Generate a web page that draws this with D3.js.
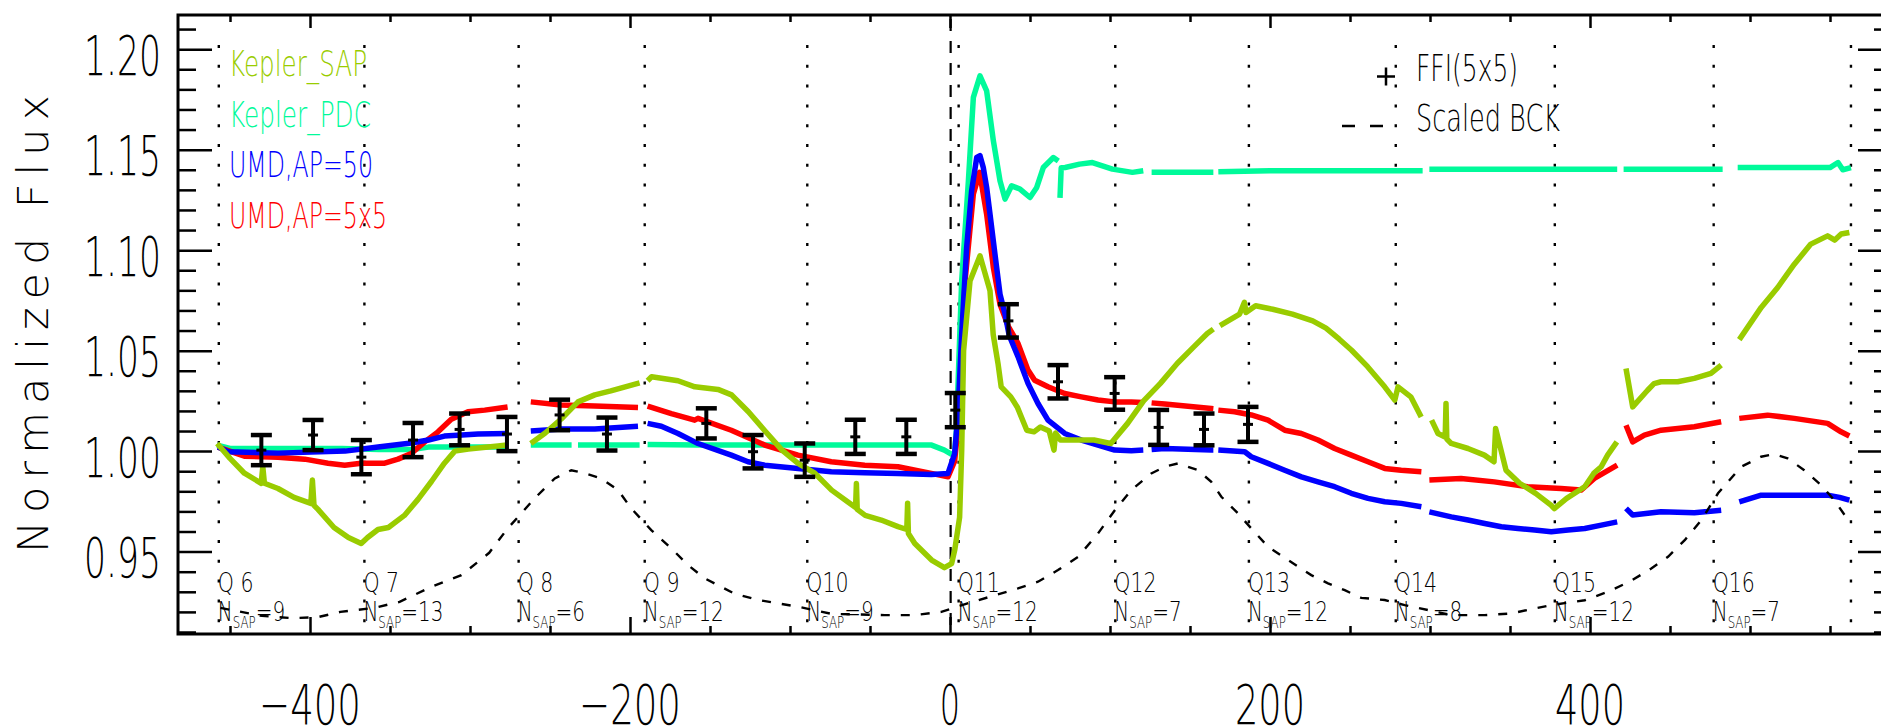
<!DOCTYPE html>
<html><head><meta charset="utf-8">
<script src="https://cdn.jsdelivr.net/npm/d3@7"></script>
<style>
html,body{margin:0;padding:0;background:#fff;}
svg{display:block;background:#fff;}
text{font-family:"DejaVu Sans","Liberation Sans",sans-serif;font-weight:200;fill:#000;}
</style></head><body>
<svg id="c" width="1881" height="728"></svg>
<script>
// ---------------- DATA ----------------
const yTicks = [0.95, 1.00, 1.05, 1.10, 1.15, 1.20];
const yTickLabels = ["0.95", "1.00", "1.05", "1.10", "1.15", "1.20"];
const xTicks = [-400, -200, 0, 200, 400];
const xTickLabels = ["\u2212400", "\u2212200", "0", "200", "400"];

const quarterT = [-457, -366, -269.6, -190.8, -89.2, 5.4, 103.3, 186.8, 278.6, 378, 477.3];
const quarterLabels = ["Q 6", "Q 7", "Q 8", "Q 9", "Q10", "Q11", "Q12", "Q13", "Q14", "Q15", "Q16"];
const quarterNsap = [9, 13, 6, 12, 9, 12, 7, 12, 8, 12, 7];
const quarterEndT = 563.1;
const zeroT = 0.4;

const sap = [[-458,1.0038],[-450,0.9964],[-441,0.989],[-430.5,0.984],[-429.5,0.9922],[-428.5,0.984],[-420,0.9814],[-410,0.977],[-399.5,0.974],[-398.5,0.9856],[-397.5,0.973],[-395,0.971],[-385,0.962],[-376,0.957],[-368,0.954],[-364,0.957],[-357.5,0.961],[-351,0.962],[-341,0.968],[-332.5,0.976],[-324,0.985],[-316,0.994],[-309.5,1.0],[-301,1.001],[-282.5,1.0025],[-277,1.003],null,
[-262,1.0038],[-253,1.009],[-243,1.016],[-232.5,1.0245],[-222,1.028],[-212,1.03],[-194,1.034],null,
[-189,1.035],[-186.5,1.037],[-170,1.035],[-159.5,1.032],[-145,1.0307],[-136.5,1.028],[-126,1.0196],[-116,1.0104],[-105,1.0005],[-95,0.9939],[-84.5,0.989],[-74,0.9806],[-64,0.9748],[-59,0.972],[-58.5,0.9839],[-58,0.971],[-53,0.968],[-43,0.9657],[-32.5,0.9624],[-27,0.961],[-26.5,0.974],[-26,0.959],[-22,0.954],[-11.5,0.9458],[-3.5,0.942],[1,0.944],[3,0.951],[6,0.967],[7.3,1.0],[8.5,1.05],[12.5,1.0847],[18.75,1.0972],[25,1.0798],[27,1.058],[30,1.0436],[32,1.032],[38,1.027],[42,1.022],[48,1.0104],[52.5,1.0096],[56.5,1.012],[62,1.010],[65,1.0005],[66,1.009],[69,1.0055],[90,1.0055],[100.5,1.0038],[111,1.0138],[121,1.025],[131.5,1.0337],[142,1.0436],[152.5,1.052],[160.8,1.0585],[164.6,1.0607],null,
[168.75,1.0624],[181,1.0682],[184,1.074],[185,1.069],[191,1.0723],[201.7,1.0706],[214,1.0682],[226.7,1.0648],[235,1.0612],[243.3,1.0557],[251,1.0502],[261,1.042],[271.7,1.032],[278,1.0254],[280,1.032],[288,1.027],[294.5,1.017],null,
[301,1.0154],[305,1.0088],[309.5,1.007],[310,1.0237],[310.5,1.006],[313.3,1.0038],[323.75,1.0013],[334,0.998],[340,0.9947],[341,1.0113],[347.5,0.9905],[356,0.984],[366,0.979],[375.6,0.9731],[377.7,0.9714],[385.4,0.9765],[396.7,0.9823],[402.3,0.9889],[407,0.9922],[411,0.998],[416.8,1.0046],null,
[422.5,1.0411],[426.7,1.022],[436,1.0303],[440,1.0336],[444.4,1.0345],[454.8,1.0345],[465.2,1.0362],[475.6,1.0387],[482,1.0428],null,
[493.3,1.0555],[507,1.0715],[517.3,1.0814],[527.7,1.093],[538,1.103],[548.5,1.1071],[553,1.105],[557,1.108],[562.1,1.1088]];

const pdc = [[-458,1.003],[-450,1.0013],[-380,1.0013],[-357,1.0008],[-336,1.0008],[-326,1.002],[-277,1.002],null,
[-262,1.003],[-236.5,1.003],null,[-232.5,1.003],[-194,1.003],null,
[-189,1.0033],[-157.5,1.003],[-100,1.003],[-11.5,1.003],[-3.5,1.0005],[0.8,0.9985],[2.9,0.999],[4,1.0104],[7.3,1.0847],[11.5,1.1345],[14.6,1.176],[18.75,1.1867],[22.9,1.1793],[27.1,1.1544],[31.25,1.1345],[34.4,1.1254],[38.5,1.132],[43.75,1.1304],[50,1.1262],[54.2,1.1312],[58.3,1.1411],[64.6,1.1461],[67.7,1.1444],null,
[68.75,1.126],[69.5,1.141],[72,1.1411],[81,1.1428],[89,1.1436],[101.5,1.1403],[114,1.1387],[120.8,1.1395],null,
[126,1.1387],[164.6,1.1387],null,
[167.7,1.139],[200,1.1395],[260,1.1395],[295.4,1.1395],null,
[299.6,1.1403],[417,1.1403],null,
[421,1.1403],[482.9,1.1403],null,
[492.3,1.1411],[550,1.1411],[555,1.1436],[558,1.140],[563.1,1.1411]];

const umd50 = [[-457.5,1.002],[-451,0.9997],[-420,0.999],[-378,1.0],[-357.5,1.002],[-336.7,1.004],[-326,1.0055],[-316,1.0075],[-305,1.008],[-295,1.0085],[-276.5,1.0088],null,
[-262,1.010],[-243,1.011],[-222,1.011],[-195,1.0124],null,
[-189,1.0138],[-180.4,1.0124],[-170,1.0088],[-159.6,1.0046],[-157.5,1.0038],[-136.7,0.998],[-126.25,0.9947],[-115.8,0.993],[-95,0.9914],[-74.2,0.9897],[-53.3,0.9892],[-32.5,0.9889],[-11.7,0.9884],[-1.25,0.9889],[2.9,0.9988],[5,1.0187],[7.3,1.058],[10.4,1.1013],[13.5,1.1295],[16.7,1.1461],[18.75,1.147],[20.8,1.1411],[22.9,1.1312],[25,1.1179],[28.1,1.098],[31.25,1.0781],[34.4,1.0682],[37,1.0575],[42.5,1.047],[48.75,1.0337],[55,1.0237],[61.25,1.0154],[71.7,1.0088],[82.1,1.0055],[92.5,1.003],[102.9,1.0005],[113.3,1.0002],[120.8,1.0005],null,
[126,1.0008],[134.2,1.0013],[163.3,1.0005],[164.6,1.0005],null,
[167.7,1.0005],[184.2,0.9997],[188.3,0.9972],[198.75,0.9939],[209.2,0.9905],[219.6,0.9872],[230,0.9847],[240.4,0.9823],[250.8,0.979],[261.25,0.9765],[271.7,0.9748],[282,0.974],[294.6,0.9723],null,
[299.6,0.9698],[313.3,0.9673],[323.75,0.9657],[334.2,0.964],[344.6,0.9624],[355,0.9615],[365.4,0.9607],[375.8,0.9599],[386.25,0.9607],[396.7,0.9615],[407.1,0.9632],[417,0.9648],null,
[422.5,0.9715],[426.7,0.9682],[444.4,0.9698],[465.2,0.9693],[482,0.9706],null,
[493.3,0.9748],[507,0.9781],[527.7,0.9781],[548.5,0.9781],[556,0.977],[562.1,0.9756]];

const umd5x5 = [[-457.5,1.002],[-441,0.9975],[-420,0.997],[-403.3,0.996],[-388.75,0.994],[-378.3,0.993],[-368,0.994],[-353.3,0.994],[-345,0.996],[-336.7,0.9988],[-328.3,1.0046],[-320,1.0096],[-311.7,1.0158],[-301.25,1.0196],[-290.8,1.0204],[-276.5,1.022],null,
[-262,1.0245],[-243,1.023],[-222,1.0224],[-195,1.0217],null,
[-189,1.0224],[-174.2,1.0187],[-159.6,1.0154],[-157.5,1.0163],[-136.7,1.0104],[-115.8,1.003],[-95,0.998],[-74.2,0.9947],[-53.3,0.993],[-32.5,0.9922],[-11.7,0.9889],[-1.25,0.9872],[2.9,0.995],[6,1.02],[9.4,1.0847],[14.6,1.1279],[18.5,1.1387],[22.9,1.1179],[27.1,1.0914],[31.25,1.0731],[36.5,1.062],[42.5,1.0536],[48.75,1.0403],[52.9,1.0353],[61.25,1.032],[71.7,1.0287],[82.1,1.027],[92.5,1.0254],[102.9,1.0245],[113.3,1.0245],[120.8,1.0242],null,
[126,1.024],[134.2,1.0234],[163.3,1.0212],[164.6,1.0211],null,
[167.7,1.0204],[177.9,1.0196],[188.3,1.018],[198.75,1.0154],[209.2,1.0104],[219.6,1.0088],[230,1.0055],[240.4,1.0013],[250.8,0.998],[261.25,0.9947],[271.7,0.9914],[282,0.9905],[294.6,0.9897],null,
[299.6,0.9856],[319.4,0.9864],[340.2,0.9847],[361,0.9823],[381.9,0.9814],[394.4,0.9806],[402.7,0.9864],[417,0.993],null,
[422.5,1.0129],[426.7,1.0046],[434,1.008],[444.4,1.0104],[465.2,1.0121],[482,1.0146],null,
[493.3,1.0163],[511,1.0179],[527.7,1.0163],[548.5,1.0138],[556.9,1.0096],[562.1,1.0075]];

const bck = [[-456,0.922],[-430,0.918],[-411,0.9169],[-395,0.9174],[-381,0.92],[-360,0.922],[-344,0.925],[-324,0.9325],[-305.4,0.9383],[-288,0.9494],[-277,0.961],[-259.6,0.9765],[-247,0.9864],[-236.7,0.9905],[-228.3,0.989],[-218,0.9864],[-207.5,0.9806],[-199.2,0.9715],[-186.7,0.9607],[-174.2,0.9516],[-163.75,0.9433],[-153.3,0.9367],[-134.6,0.929],[-120,0.926],[-107.5,0.9242],[-95,0.9226],[-74,0.919],[-40.8,0.9184],[-22,0.9184],[-5.4,0.92],[10,0.924],[24.8,0.9275],[42.5,0.9317],[55,0.935],[67.5,0.9408],[80,0.9474],[92.5,0.959],[103,0.9706],[113.3,0.9806],[125.8,0.9889],[134.2,0.9922],[142.5,0.9939],[155,0.9905],[163.3,0.9847],[169.6,0.9773],[180,0.969],[188.3,0.9615],[198.75,0.9524],[211.25,0.9458],[225.8,0.9383],[236.25,0.9342],[246.7,0.9308],[257,0.927],[271.7,0.9259],[284.2,0.9234],[313.3,0.9184],[334.2,0.9184],[350.8,0.9192],[365.4,0.9217],[375.8,0.9234],[396.7,0.9258],[411.25,0.93],[425.8,0.9355],[438.3,0.9416],[448.75,0.9474],[459.2,0.9557],[469.6,0.9657],[480,0.979],[494.4,0.9922],[506.9,0.9972],[515.2,0.9985],[523.5,0.9964],[533.9,0.9905],[544.4,0.9831],[552.7,0.9756],[562.1,0.9648]];

const ffiT = [-430.4,-398.1,-367.9,-335.6,-306.5,-276.9,-244,-214.4,-152.3,-123.1,-90.8,-59.2,-27.3,3.3,36.5,67.5,102.9,130.4,158.75,186.25];
const ffiV = [1.0005,1.008,0.997,1.0055,1.0108,1.0085,1.018,1.0085,1.0138,0.9997,0.9955,1.0071,1.0071,1.0204,1.0648,1.0345,1.0287,1.0118,1.0108,1.0133];
const ffiE = [0.0075,0.0075,0.0085,0.0085,0.0079,0.0085,0.0076,0.0082,0.0075,0.0083,0.0083,0.0085,0.0085,0.0085,0.0083,0.0083,0.0081,0.0087,0.0079,0.0087];

const legendLabels = ["Kepler_SAP", "Kepler_PDC", "UMD,AP=50", "UMD,AP=5x5"];
const legendColors = ["#99cc00", "#00fa9a", "#0000ff", "#ff0000"];
const legendWidths = [138, 142, 144, 158];

// ---------------- CHART ----------------
const svg = d3.select('#c');
const L = 178, R = 1892, T = 15, B = 634;
const x = d3.scaleLinear().domain([-482.5, 588.75]).range([L, R]);
const y = d3.scaleLinear().domain([0.909, 1.218]).range([B, 13]);

// vertical quarter lines
svg.append('g').selectAll('line').data(quarterT.concat([quarterEndT])).join('line')
  .attr('x1', d => x(d)).attr('x2', d => x(d)).attr('y1', T + 30).attr('y2', B)
  .attr('stroke', '#000').attr('stroke-width', 2.4).attr('stroke-dasharray', '3,16.8');
svg.append('line').attr('x1', x(zeroT)).attr('x2', x(zeroT)).attr('y1', T + 4).attr('y2', B)
  .attr('stroke', '#000').attr('stroke-width', 2.2).attr('stroke-dasharray', '12,10');

// series
const line = d3.line().defined(d => d != null).x(d => x(d[0])).y(d => y(d[1]));
const series = [[pdc, legendColors[1]], [umd5x5, legendColors[3]], [umd50, legendColors[2]], [sap, legendColors[0]]];
series.forEach(([data, col]) => {
  svg.append('path').datum(data).attr('d', line).attr('fill', 'none')
    .attr('stroke', col).attr('stroke-width', 5.5).attr('stroke-linejoin', 'round');
});
svg.append('path').datum(bck).attr('d', line).attr('fill', 'none')
  .attr('stroke', '#000').attr('stroke-width', 2.4).attr('stroke-dasharray', '9,11');

// FFI error bars
const ffi = ffiT.map((t, i) => ({t, v: ffiV[i], e: ffiE[i]}));
const gE = svg.append('g').attr('stroke', '#000');
gE.selectAll('line.v').data(ffi).join('line').attr('class', 'v')
  .attr('x1', d => x(d.t)).attr('x2', d => x(d.t)).attr('y1', d => y(d.v + d.e)).attr('y2', d => y(d.v - d.e))
  .attr('stroke-width', 4);
[1, -1].forEach(s => {
  gE.selectAll('line.c' + (s > 0 ? 'a' : 'b')).data(ffi).join('line').attr('class', 'c' + (s > 0 ? 'a' : 'b'))
    .attr('x1', d => x(d.t) - 10.5).attr('x2', d => x(d.t) + 10.5)
    .attr('y1', d => y(d.v + s * d.e)).attr('y2', d => y(d.v + s * d.e)).attr('stroke-width', 4.5);
});
gE.selectAll('line.m').data(ffi).join('line').attr('class', 'm')
  .attr('x1', d => x(d.t) - 5).attr('x2', d => x(d.t) + 5)
  .attr('y1', d => y(d.v)).attr('y2', d => y(d.v)).attr('stroke-width', 3);

// axes ticks
function ticksOnly(g) { g.select('.domain').remove(); g.selectAll('line').attr('stroke', '#000').attr('stroke-width', 2.5); }
const yMinor = d3.range(91, 122).map(v => v / 100).filter(v => !yTicks.some(t => Math.abs(t - v) < 1e-6));
const xMinor = d3.range(-450, 588, 50).filter(v => !xTicks.includes(v));
svg.append('g').attr('transform', `translate(${L},0)`).call(d3.axisLeft(y).tickValues(yTicks).tickSizeInner(-34).tickSizeOuter(0).tickFormat('')).call(ticksOnly);
svg.append('g').attr('transform', `translate(${L},0)`).call(d3.axisLeft(y).tickValues(yMinor).tickSizeInner(-18).tickSizeOuter(0).tickFormat('')).call(ticksOnly);
svg.append('g').attr('transform', `translate(${R},0)`).call(d3.axisRight(y).tickValues(yTicks).tickSizeInner(-34).tickSizeOuter(0).tickFormat('')).call(ticksOnly);
svg.append('g').attr('transform', `translate(${R},0)`).call(d3.axisRight(y).tickValues(yMinor).tickSizeInner(-18).tickSizeOuter(0).tickFormat('')).call(ticksOnly);
svg.append('g').attr('transform', `translate(0,${B})`).call(d3.axisBottom(x).tickValues(xTicks).tickSizeInner(-17).tickSizeOuter(0).tickFormat('')).call(ticksOnly);
svg.append('g').attr('transform', `translate(0,${B})`).call(d3.axisBottom(x).tickValues(xMinor).tickSizeInner(-8).tickSizeOuter(0).tickFormat('')).call(ticksOnly);
svg.append('g').attr('transform', `translate(0,${T})`).call(d3.axisTop(x).tickValues(xTicks).tickSizeInner(-13).tickSizeOuter(0).tickFormat('')).call(ticksOnly);
svg.append('g').attr('transform', `translate(0,${T})`).call(d3.axisTop(x).tickValues(xMinor).tickSizeInner(-7).tickSizeOuter(0).tickFormat('')).call(ticksOnly);

// frame
svg.append('path').attr('d', `M1881,${T}H${L}V${B}H1881`).attr('fill', 'none').attr('stroke', '#000').attr('stroke-width', 3);

// y tick labels
svg.append('g').selectAll('text').data(yTicks).join('text')
  .attr('x', 84).attr('y', d => y(d) + 25.5).attr('font-size', 56)
  .attr('textLength', 77).attr('lengthAdjust', 'spacingAndGlyphs')
  .text((d, i) => yTickLabels[i]);
// x tick labels
svg.append('g').selectAll('text').data(xTicks).join('text')
  .each(function(d, i) {
    const s = xTickLabels[i];
    const w = (s.startsWith('\u2212') ? 32 : 0) + (s.replace('\u2212', '').length) * 23.3 - (s.length === 1 ? 3 : 0);
    d3.select(this).attr('x', x(d) - w / 2).attr('textLength', w);
  })
  .attr('y', 724).attr('font-size', 56).attr('lengthAdjust', 'spacingAndGlyphs')
  .text((d, i) => xTickLabels[i]);

// y title
svg.append('text').attr('transform', 'translate(48,324) rotate(-90)')
  .attr('text-anchor', 'middle').attr('font-size', 43)
  .attr('textLength', 458).attr('lengthAdjust', 'spacing').text('Normalized Flux');

// quarter labels
quarterT.forEach((t, i) => {
  svg.append('g').attr('transform', `translate(${x(t) - 1},592) scale(0.76,1)`)
    .append('text').attr('font-size', 27).text(quarterLabels[i]);
  const tx = svg.append('g').attr('transform', `translate(${x(t) - 1},621) scale(0.74,1)`)
    .append('text').attr('font-size', 27);
  tx.append('tspan').text('N');
  tx.append('tspan').attr('font-size', 16).attr('dy', 7).text('SAP');
  tx.append('tspan').attr('dy', -7).text('=' + quarterNsap[i]);
});

// left legend
legendLabels.forEach((s, i) => {
  svg.append('text').attr('x', 229).attr('y', 76 + i * 50.7).attr('font-size', 36)
    .attr('textLength', legendWidths[i]).attr('lengthAdjust', 'spacingAndGlyphs')
    .style('fill', legendColors[i]).text(s);
});

// right legend
svg.append('path').attr('d', 'M1377,76.5H1395M1386,67.5V85.5').attr('stroke', '#000').attr('stroke-width', 2.5);
svg.append('text').attr('x', 1416).attr('y', 81).attr('font-size', 38)
  .attr('textLength', 102).attr('lengthAdjust', 'spacingAndGlyphs').text('FFI(5x5)');
svg.append('path').attr('d', 'M1342,126H1355M1370,126H1383').attr('stroke', '#000').attr('stroke-width', 2.5);
svg.append('text').attr('x', 1416).attr('y', 131).attr('font-size', 38)
  .attr('textLength', 144).attr('lengthAdjust', 'spacingAndGlyphs').text('Scaled BCK');
</script></body></html>
